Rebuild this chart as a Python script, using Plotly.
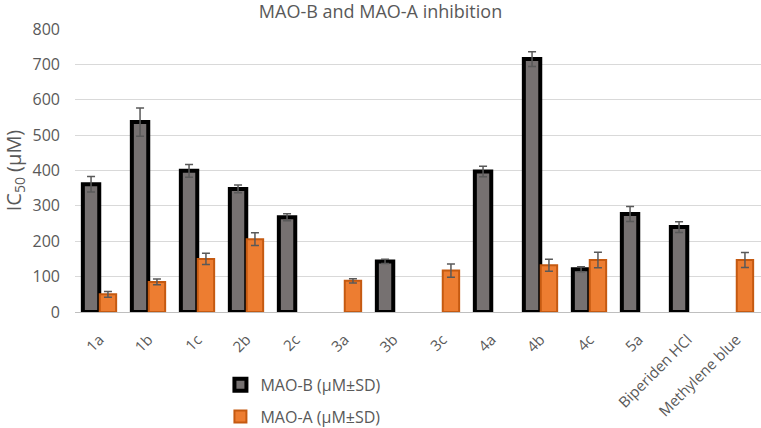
import plotly.graph_objects as go

# compounds on the x axis
compounds = ["1a", "1b", "1c", "2b", "2c", "3a", "3b", "3c", "4a", "4b", "4c", "5a",
             "Biperiden HCl", "Methylene blue"]

mao_b = [361, 537, 399, 348, 268, None, 143, None, 397, 715, 121, 277, 240, None]
mao_b_sd = [22, 40, 18, 11, 10, None, 6, None, 15, 21, 7, 21, 15, None]
mao_a = [50, 85, 150, 206, None, 88, None, 117, None, 132, 147, None, None, 147]
mao_a_sd = [8, 8, 16, 18, None, 6, None, 19, None, 17, 22, None, None, 21]

FONT = "Open Sans"
TXT = "#595959"

fig = go.Figure()
fig.add_trace(go.Bar(
    x=compounds, y=mao_b, name="MAO-B (μM±SD)",
    marker=dict(color="#767171", line=dict(color="black", width=4)),
    error_y=dict(type="data", array=mao_b_sd, color="#595959", thickness=1.5, width=4),
    legendgroup="b",
))
fig.add_trace(go.Bar(
    x=compounds, y=mao_a, name="MAO-A (μM±SD)",
    marker=dict(color="#ED7D31", line=dict(color="#C55A11", width=2)),
    error_y=dict(type="data", array=mao_a_sd, color="#595959", thickness=1.5, width=4),
    legendgroup="a",
))

fig.update_layout(
    width=761, height=428,
    paper_bgcolor="white", plot_bgcolor="white",
    font=dict(family=FONT, color=TXT),
    title=dict(text="MAO-B and MAO-A inhibition", x=0.5, xanchor="center",
               y=0.972, yanchor="middle", font=dict(size=18, color=TXT)),
    margin=dict(l=75, r=0, t=29, b=116, autoexpand=False),
    barmode="group", bargap=0.31, bargroupgap=0.03,
    showlegend=True,
    legend=dict(x=0.212, y=-0.197, xanchor="left", yanchor="top",
                orientation="v", traceorder="grouped", tracegroupgap=8,
                itemwidth=30,
                font=dict(size=16, color=TXT), bgcolor="rgba(0,0,0,0)"),
    xaxis=dict(tickangle=-45, tickfont=dict(size=15, color=TXT),
               showline=True, linecolor="#BFBFBF", linewidth=1,
               ticks="", showgrid=False, automargin=False, ticklabelstandoff=12),
    yaxis=dict(range=[0, 800], dtick=100, tickfont=dict(size=16, color=TXT),
               showgrid=True, gridcolor="#D9D9D9", gridwidth=1,
               zeroline=False, showline=False, automargin=False,
               ticklabelstandoff=14,
               title=dict(text="IC<sub>50</sub> (μM)", font=dict(size=20, color=TXT),
                          standoff=6)),
)

# drop the page's default body margin so the figure sits at the window corner
fig.write_html("out.html", config={"displayModeBar": False},
               post_script="document.body.style.margin='0';")
